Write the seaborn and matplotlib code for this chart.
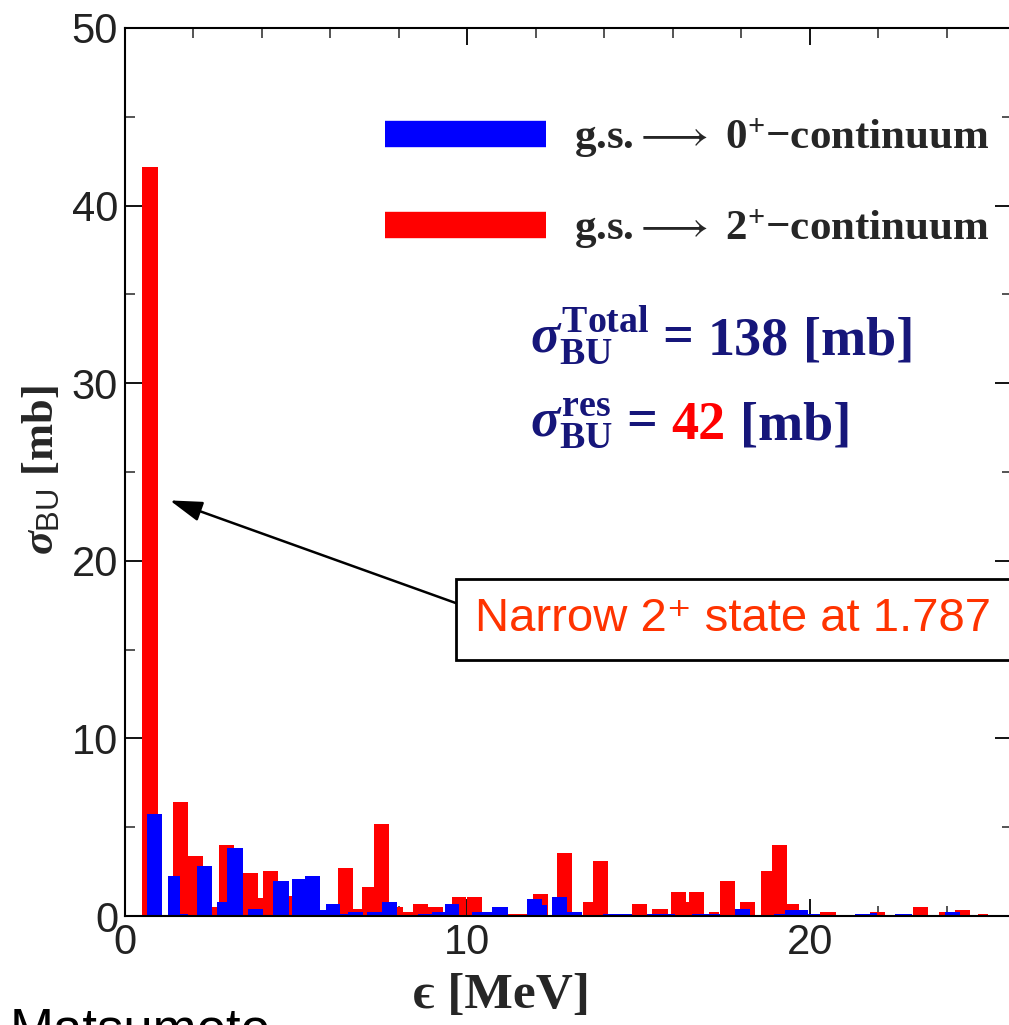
import numpy as np
import pandas as pd
import matplotlib
matplotlib.use("Agg")
import matplotlib.pyplot as plt
import seaborn as sns
from matplotlib.lines import Line2D
from matplotlib.ticker import MultipleLocator

# ---------------- data ----------------
red_left = [0.51, 1.41, 1.85, 2.29, 2.75, 3.44, 3.87, 4.04, 4.48, 6.23, 6.67, 6.91, 7.28,
            7.72, 8.13, 8.42, 8.86, 9.54, 9.98, 11.19, 11.92, 12.62, 13.38, 13.67, 14.79,
            15.40, 15.93, 16.38, 16.48, 17.06, 17.37, 17.96, 18.57, 18.88, 19.32, 20.29,
            20.75, 21.75, 22.19, 23.02, 23.76, 24.23, 24.90]
red_right = [0.95, 1.85, 2.29, 2.73, 3.19, 3.87, 4.04, 4.48, 4.92, 6.67, 6.91, 7.28, 7.72,
             8.13, 8.42, 8.86, 9.29, 9.95, 10.41, 11.73, 12.36, 13.06, 13.67, 14.11, 15.25,
             15.86, 16.38, 16.48, 16.90, 17.35, 17.81, 18.39, 18.88, 19.32, 19.69, 20.75,
             21.20, 22.19, 22.60, 23.46, 23.94, 24.67, 25.20]
red_height = [42.2, 6.44, 3.38, 0.50, 4.00, 2.40, 1.00, 2.55, 1.10, 2.68, 0.38, 1.65, 5.17,
              0.49, 0.22, 0.66, 0.53, 1.09, 1.09, 0.12, 1.24, 3.57, 0.79, 3.12, 0.66,
              0.38, 1.37, 0.80, 1.37, 0.22, 1.97, 0.79, 2.55, 4.00, 0.66, 0.22,
              0.08, 0.22, 0.08, 0.53, 0.20, 0.34, 0.10]

blue_left = [0.65, 1.25, 1.61, 2.09, 2.68, 2.97, 3.60, 4.33, 4.87, 5.26, 5.69, 5.86, 6.28,
             6.52, 7.06, 7.49, 8.56, 8.95, 9.34, 10.14, 10.71, 11.73, 12.17, 12.46, 12.90,
             13.97, 15.25, 16.55, 17.81, 18.96, 19.27, 19.95, 21.31, 21.75, 22.48, 23.94,
             24.38]
blue_right = [1.09, 1.61, 1.85, 2.53, 2.97, 3.44, 4.04, 4.79, 5.26, 5.69, 5.86, 6.28, 6.52,
              6.96, 7.49, 7.93, 8.95, 9.34, 9.75, 10.71, 11.19, 12.17, 12.31, 12.90, 13.34,
              14.79, 16.06, 17.37, 18.25, 19.27, 19.95, 20.29, 21.75, 21.95, 22.97, 24.38,
              24.90]
blue_height = [5.75, 2.25, 0.10, 2.82, 0.80, 3.85, 0.38, 1.97, 2.08, 2.25, 0.34, 0.65, 0.10,
               0.22, 0.22, 0.77, 0.10, 0.22, 0.66, 0.22, 0.49, 0.94, 0.60, 1.09, 0.22,
               0.10, 0.10, 0.10, 0.38, 0.10, 0.36, 0.10, 0.10, 0.17, 0.10, 0.20,
               0.05]

x_ticks = [0, 10, 20]
y_ticks = [0, 10, 20, 30, 40, 50]

legend_labels = [r"g.s.$\longrightarrow$ 0$^{+}$$-$continuum",
                 r"g.s.$\longrightarrow$ 2$^{+}$$-$continuum"]
total_prefix = r"$\sigma_{\mathrm{BU}}^{\mathrm{Total}}$ ="
total_value = "138"
res_prefix = r"$\sigma_{\mathrm{BU}}^{\mathrm{res}}$ ="
res_value = "42"
unit_text = "[mb]"
note_text = "Narrow 2\u207a state at 1.787"
author_text = "Matsumoto"
x_label = "\u03f5 [MeV]"
y_label = r"$\sigma_{\mathsf{BU}}$ [mb]"

RED = "#FF0000"
BLUE = "#0000FF"
NAVY = "#16167a"

# ---------------- style ----------------
sns.set_style("ticks")
plt.rcParams["font.family"] = ["Liberation Sans", "DejaVu Sans"]
plt.rcParams["mathtext.fontset"] = "custom"
plt.rcParams["mathtext.it"] = "Liberation Serif:italic:bold"
plt.rcParams["mathtext.rm"] = "Liberation Serif:bold"
plt.rcParams["mathtext.bf"] = "Liberation Serif:bold"
plt.rcParams["mathtext.sf"] = "Liberation Sans"

fig = plt.figure(figsize=(10.09, 10.25), dpi=100)
W, H = 1009, 1025
ax = fig.add_axes([125 / W, 109 / H, 887 / W, 888 / H])


def hist_layers(left, right, height):
    bars = sorted(zip(left, right, height))
    edges = [bars[0][0]]
    weights = []
    for l, r, h in bars:
        l = max(l, edges[-1])
        if l > edges[-1] + 1e-9:
            weights.append(0.0)
            edges.append(l)
        weights.append(h)
        edges.append(r)
    mids = [(a + b) / 2 for a, b in zip(edges[:-1], edges[1:])]
    return pd.DataFrame({"energy": mids, "sigma": weights}), [float(e) for e in edges]


for L, R, Hh, c in [(red_left, red_right, red_height, RED),
                    (blue_left, blue_right, blue_height, BLUE)]:
    df, edges = hist_layers(L, R, Hh)
    sns.histplot(data=df, x="energy", weights="sigma", bins=edges, ax=ax, color=c,
                 alpha=1.0, linewidth=0, element="bars", stat="count")

ax.set_xlim(0, 25.9)
ax.set_ylim(0, 50)
ax.set_xticks(x_ticks)
ax.set_yticks(y_ticks)
ax.xaxis.set_minor_locator(MultipleLocator(2))
ax.yaxis.set_minor_locator(MultipleLocator(5))
ax.tick_params(which="major", direction="in", length=12, width=1.3, top=True,
               right=True, labelsize=30, pad=5, colors="black", labelcolor="#222222")
ax.tick_params(which="minor", direction="in", length=7, width=1.1, top=True, right=True)
for s in ax.spines.values():
    s.set_linewidth(1.5)
    s.set_color("black")

ax.set_xlabel(x_label, fontsize=37, family=["Liberation Serif", "DejaVu Serif"],
              weight="bold")
ax.xaxis.set_label_coords(0.425, -0.064)
ax.set_ylabel(y_label, fontsize=32, family="Liberation Serif", weight="bold")
ax.yaxis.set_label_coords(-0.071, 0.502)

# legend
handles = [Line2D([], [], color=BLUE, lw=19, solid_capstyle="butt"),
           Line2D([], [], color=RED, lw=19, solid_capstyle="butt")]
fig.legend(handles, legend_labels, loc="upper left",
           bbox_to_anchor=(385 / W, 1 - 117 / H), bbox_transform=fig.transFigure,
           frameon=False, borderpad=0, borderaxespad=0, handlelength=3.75,
           handletextpad=0.65, labelspacing=1.1,
           prop={"family": "Liberation Serif", "weight": "bold", "size": 31})

# cross-section texts
txt_kw = dict(fontsize=39, family="Liberation Serif", weight="bold")
for base_y, prefix, value, vcolor in [(352, total_prefix, total_value, NAVY),
                                      (437, res_prefix, res_value, RED)]:
    tp = fig.text(530 / W, 1 - base_y / H, prefix, color=NAVY, va="baseline", **txt_kw)
    tv = ax.annotate(value, xy=(1, 0), xycoords=tp, xytext=(11, 0),
                     textcoords="offset points", color=vcolor, va="bottom",
                     ha="left", **txt_kw)
    ax.annotate(unit_text, xy=(1, 0), xycoords=tv, xytext=(10, 0),
                textcoords="offset points", color=NAVY, va="bottom", ha="left",
                **txt_kw)

# annotation box and arrow
ax.annotate("", xy=(1.31, 23.4), xytext=(9.69, 17.6),
            arrowprops=dict(arrowstyle="-|>,head_length=0.9,head_width=0.28",
                            color="black", lw=1.8, mutation_scale=22,
                            shrinkA=0, shrinkB=0))
ax.text(10.22, 16.7, note_text, color="#FF3300", fontsize=34,
        family=["Liberation Sans", "DejaVu Sans"], va="center", ha="left",
        bbox=dict(boxstyle="square,pad=0.4", fc="white", ec="black", lw=2),
        clip_on=False, zorder=5)

fig.text(10 / W, 1 - 1006 / H, author_text, fontsize=38, va="top", ha="left",
         color="black")

fig.savefig("out.png", dpi=100)
